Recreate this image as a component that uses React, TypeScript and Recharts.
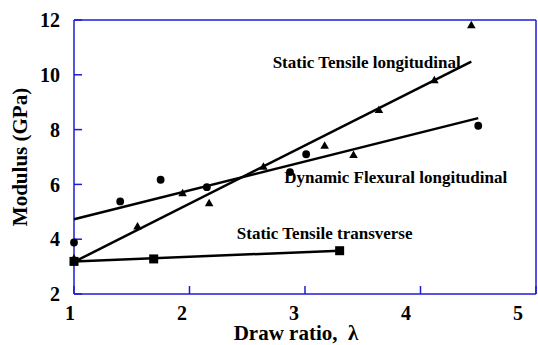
import { useEffect, useState } from 'react'
import { ComposedChart, Scatter, XAxis, YAxis, ReferenceDot } from 'recharts'

// Dynamic flexural, longitudinal (circles)
const flexuralX = [1, 1.4, 1.75, 2.15, 2.87, 3.01, 4.5]
const flexuralY = [3.88, 5.38, 6.17, 5.9, 6.45, 7.1, 8.14]

// Static tensile, longitudinal (triangles)
const tensileLongX = [1, 1.55, 1.94, 2.17, 2.64, 3.17, 3.42, 3.64, 4.12, 4.44]
const tensileLongY = [3.3, 4.47, 5.68, 5.32, 6.65, 7.42, 7.08, 8.72, 9.81, 11.82]

// Static tensile, transverse (squares)
const tensileTransX = [1, 1.69, 3.3]
const tensileTransY = [3.19, 3.28, 3.58]

// Linear fits: [start, end]
const fitFlexuralX = [1, 4.5]
const fitFlexuralY = [4.73, 8.42]
const fitLongX = [1, 4.44]
const fitLongY = [3.17, 10.48]
const fitTransX = [1, 3.3]
const fitTransY = [3.19, 3.58]

const xTicks = [1, 2, 3, 4, 5]
const yTicks = [2, 4, 6, 8, 10, 12]

const labelText = ['Static Tensile longitudinal', 'Dynamic Flexural longitudinal', 'Static Tensile transverse']
const labelX = [2.72, 2.82, 2.41]
const labelY = [10.48, 6.27, 4.23]

const FONT = 'serif'
const FRAME = '#1c1cd6'

const toPoints = (xs: number[], ys: number[]) => xs.map((x, i) => ({ x, y: ys[i] }))

const Circle = ({ cx, cy }: any) => <circle cx={cx} cy={cy} r={3.9} fill="#000" />
const Triangle = ({ cx, cy }: any) => (
  <polygon points={`${cx},${cy - 4.3} ${cx + 4.3},${cy + 3.2} ${cx - 4.3},${cy + 3.2}`} fill="#000" />
)
const Square = ({ cx, cy }: any) => <rect x={cx - 4.5} y={cy - 4.5} width={9} height={9} fill="#000" />
const NoDot = () => <g />

// bottom tick labels drift a little left of their tick marks
function XTick({ x, y, payload }: any) {
  const shift = -4 - (payload.value - 1) * 3.5
  return (
    <text x={x + shift} y={y} dy="0.71em" textAnchor="middle" fontFamily={FONT} fontWeight="bold" fontSize={20} fill="#000">
      {payload.value}
    </text>
  )
}

export default function App() {
  // one extra pass after mount so every chart layer is filled in
  const [, setTick] = useState(0)
  useEffect(() => {
    setTick(1)
    const t = setTimeout(() => setTick(2), 200)
    return () => clearTimeout(t)
  }, [])

  return (
    <div style={{ position: 'absolute', left: 0, top: 0 }}>
      <ComposedChart width={538} height={345} margin={{ top: 19, right: 1, left: 0, bottom: 0 }}>
        <XAxis
          type="number"
          dataKey="x"
          domain={[1, 5]}
          ticks={xTicks}
          interval={0}
          height={51}
          stroke={FRAME}
          strokeWidth={1.5}
          tickSize={-8}
          tickMargin={20}
          tick={<XTick />}
          label={{
            value: 'Draw ratio,\u00a0\u00a0λ',
            position: 'insideBottom',
            offset: 5,
            dx: -9,
            style: { fontFamily: FONT, fontWeight: 'bold', fontSize: 21, fill: '#000' },
          }}
        />
        <XAxis
          xAxisId="top"
          orientation="top"
          type="number"
          domain={[1, 5]}
          ticks={xTicks}
          interval={0}
          height={1}
          stroke={FRAME}
          strokeWidth={1.5}
          tickSize={-8}
          tick={false}
        />
        <YAxis
          type="number"
          dataKey="y"
          domain={[2, 12]}
          ticks={yTicks}
          interval={0}
          width={74}
          stroke={FRAME}
          strokeWidth={1.5}
          tickSize={-8}
          tickMargin={22}
          tick={{ fontFamily: FONT, fontWeight: 'bold', fontSize: 20, fill: '#000', stroke: 'none' }}
          label={{
            value: 'Modulus (GPa)',
            angle: -90,
            position: 'insideLeft',
            offset: 20,
            style: { textAnchor: 'middle', fontFamily: FONT, fontWeight: 'bold', fontSize: 21, fill: '#000' },
          }}
        />
        <YAxis
          yAxisId="right"
          orientation="right"
          type="number"
          domain={[2, 12]}
          ticks={yTicks}
          interval={0}
          width={1}
          stroke={FRAME}
          strokeWidth={1.5}
          tickSize={-8}
          tick={false}
        />

        <Scatter data={toPoints(fitFlexuralX, fitFlexuralY)} line={{ stroke: '#000', strokeWidth: 2.5 }} shape={<NoDot />} isAnimationActive={false} />
        <Scatter data={toPoints(fitLongX, fitLongY)} line={{ stroke: '#000', strokeWidth: 2.5 }} shape={<NoDot />} isAnimationActive={false} />
        <Scatter data={toPoints(fitTransX, fitTransY)} line={{ stroke: '#000', strokeWidth: 2.5 }} shape={<NoDot />} isAnimationActive={false} />

        <Scatter data={toPoints(tensileTransX, tensileTransY)} shape={<Square />} isAnimationActive={false} />
        <Scatter data={toPoints(tensileLongX, tensileLongY)} shape={<Triangle />} isAnimationActive={false} />
        <Scatter data={toPoints(flexuralX, flexuralY)} shape={<Circle />} isAnimationActive={false} />

        {labelText.map((t, i) => (
          <ReferenceDot
            key={t}
            x={labelX[i]}
            y={labelY[i]}
            r={0}
            fill="none"
            stroke="none"
            label={{
              value: t,
              position: 'right',
              offset: 0,
              style: { fontFamily: FONT, fontWeight: 'bold', fontSize: 17, fill: '#000' },
            }}
          />
        ))}
      </ComposedChart>
    </div>
  )
}
